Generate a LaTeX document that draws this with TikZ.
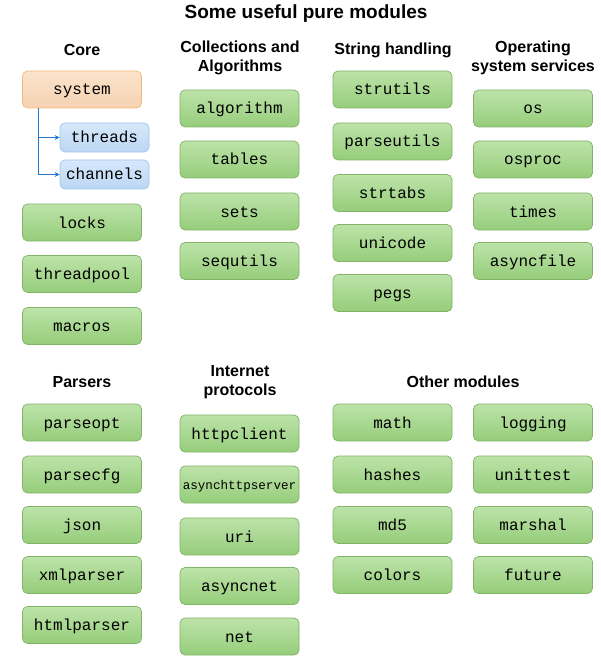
\documentclass[tikz,border=0pt]{standalone}
\usepackage{fontspec}
\setmainfont{Liberation Sans}
\newfontfamily\monof{Liberation Mono}
\usetikzlibrary{arrows.meta}
\definecolor{gtop}{HTML}{BDE3A9}
\definecolor{gbot}{HTML}{95CD7A}
\definecolor{gline}{HTML}{82B366}
\definecolor{otop}{HTML}{FBE3CB}
\definecolor{obot}{HTML}{F5D2B2}
\definecolor{oline}{HTML}{F6B97A}
\definecolor{btop}{HTML}{D6E8FB}
\definecolor{bbot}{HTML}{BCD6F3}
\definecolor{bline}{HTML}{9EC4EE}
\definecolor{arrc}{HTML}{1F77D0}
\tikzset{
  modbox/.style={draw=gline, line width=0.7pt, rounded corners=5pt, top color=gtop, bottom color=gbot,
    minimum width=119pt, minimum height=37pt, inner sep=0pt, text height=12pt, text depth=1pt,
    font=\monof\fontsize{16}{16}\selectfont},
  sysbox/.style={modbox, draw=oline, top color=otop, bottom color=obot},
  subbox/.style={modbox, draw=bline, top color=btop, bottom color=bbot, minimum width=89pt, minimum height=29pt},
  hdr/.style={font=\bfseries\fontsize{16}{19}\selectfont, align=center, inner sep=0pt},
  ttl/.style={font=\bfseries\fontsize{19}{19}\selectfont, inner sep=0pt},
  arr/.style={draw=arrc, line width=0.8pt, -{Stealth[length=5pt,width=5pt]}},
}
\begin{document}
\begin{tikzpicture}[x=1pt,y=-1pt]
\useasboundingbox (0,0) rectangle (600,660);
\node[ttl] (title) at (306,14) {Some useful pure modules};
% Core
\node[hdr] (hcore) at (82,50) {Core};
\node[sysbox] (system) at (82,89.5) {system};
\node[subbox] (threads) at (104.5,137.5) {threads};
\node[subbox] (channels) at (104.5,174.5) {channels};
\coordinate (trunk) at (38,108);
\draw[arr] (trunk) |- (threads.west);
\draw[arr] (trunk) |- (channels.west);
\node[modbox] (locks) at (82,222.5) {locks};
\node[modbox] (threadpool) at (82,274) {threadpool};
\node[modbox] (macros) at (82,326) {macros};
% Collections
\node[hdr] (hcoll) at (240,57.5) {Collections and\\Algorithms};
\node[modbox] (algorithm) at (239.5,108.5) {algorithm};
\node[modbox] (tables) at (239.5,159.5) {tables};
\node[modbox] (sets) at (239.5,211.5) {sets};
\node[modbox] (sequtils) at (239.5,261) {sequtils};
% String handling
\node[hdr] (hstr) at (393,50) {String handling};
\node[modbox] (strutils) at (392.5,89.5) {strutils};
\node[modbox] (parseutils) at (392.5,141.5) {parseutils};
\node[modbox] (strtabs) at (392.5,193) {strtabs};
\node[modbox] (unicode) at (392.5,243) {unicode};
\node[modbox] (pegs) at (392.5,293) {pegs};
% OS services
\node[hdr] (hos) at (533,57.5) {Operating\\system services};
\node[modbox] (os) at (533,108.5) {os};
\node[modbox] (osproc) at (533,159.5) {osproc};
\node[modbox] (times) at (533,211.5) {times};
\node[modbox] (asyncfile) at (533,261) {asyncfile};
% Parsers
\node[hdr] (hpars) at (82,382) {Parsers};
\node[modbox] (parseopt) at (82,422.5) {parseopt};
\node[modbox] (parsecfg) at (82,474.5) {parsecfg};
\node[modbox] (json) at (82,525) {json};
\node[modbox] (xmlparser) at (82,575) {xmlparser};
\node[modbox] (htmlparser) at (82,625) {htmlparser};
% Internet protocols
\node[hdr] (hnet) at (240,382.5) {Internet\\protocols};
\node[modbox] (httpclient) at (239.5,433.5) {httpclient};
\node[modbox, font=\monof\fontsize{12.6}{12.6}\selectfont, text height=10pt, text depth=1pt] (asynchttpserver) at (239.5,484.5) {asynchttpserver};
\node[modbox] (uri) at (239.5,536.5) {uri};
\node[modbox] (asyncnet) at (239.5,586) {asyncnet};
\node[modbox] (net) at (239.5,636.5) {net};
% Other modules
\node[hdr] (hother) at (463,382) {Other modules};
\node[modbox] (math) at (392.5,422.5) {math};
\node[modbox] (hashes) at (392.5,474.5) {hashes};
\node[modbox] (md5) at (392.5,525) {md5};
\node[modbox] (colors) at (392.5,575) {colors};
\node[modbox] (logging) at (533,422.5) {logging};
\node[modbox] (unittest) at (533,474.5) {unittest};
\node[modbox] (marshal) at (533,525) {marshal};
\node[modbox] (future) at (533,575) {future};
\end{tikzpicture}
\end{document}
